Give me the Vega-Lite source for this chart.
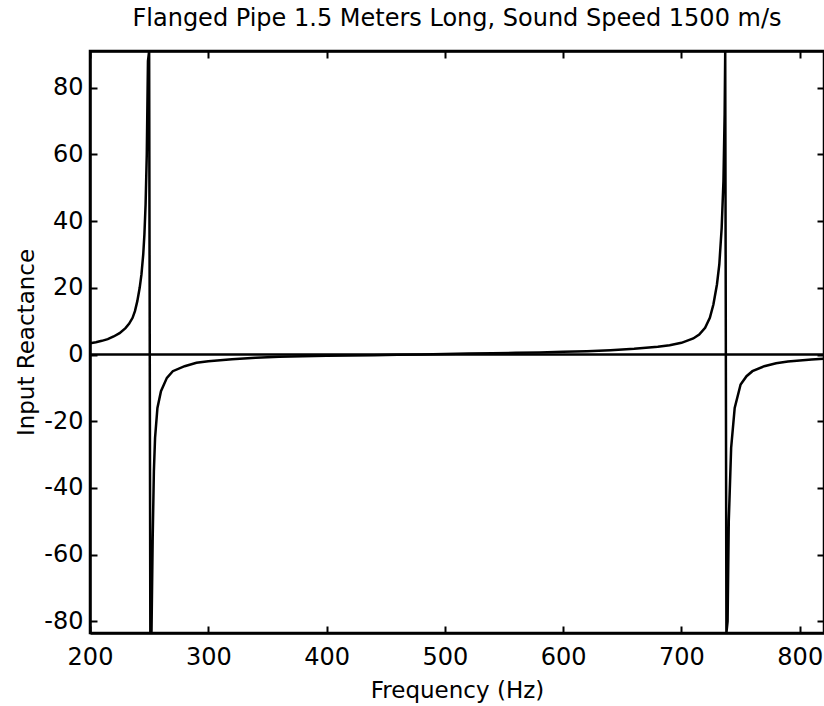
{
  "$schema": "https://vega.github.io/schema/vega-lite/v6.json",
  "width": 734,
  "height": 582,
  "autosize": "none",
  "padding": {"left": 90, "top": 51, "right": 0, "bottom": 73},
  "background": "white",
  "title": {"text": "Flanged Pipe 1.5 Meters Long, Sound Speed 1500 m/s", "font": "DejaVu Sans", "fontSize": 24, "fontWeight": "normal", "color": "black", "offset": 19, "anchor": "middle"},
  "config": {
    "view": {"stroke": "black", "strokeWidth": 2.5},
    "axis": {"domainColor": "black", "domainWidth": 2.5, "tickColor": "black", "tickWidth": 2, "tickSize": -7, "grid": false, "labelFlush": false, "labelFont": "DejaVu Sans", "labelFontSize": 24, "labelColor": "black", "titleFont": "DejaVu Sans", "titleFontSize": 23, "titleFontWeight": "normal", "titleColor": "black"}
  },
  "datasets": {
    "curve": [
      {"f": 200, "x": 3.4}, {"f": 205, "x": 3.7}, {"f": 210, "x": 4.1}, {"f": 215, "x": 4.6}, {"f": 220, "x": 5.4}, {"f": 225, "x": 6.4}, {"f": 230, "x": 7.9}, {"f": 233, "x": 9.2}, {"f": 236, "x": 11}, {"f": 238, "x": 13}, {"f": 240, "x": 16}, {"f": 242, "x": 20}, {"f": 243.5, "x": 24}, {"f": 245, "x": 30}, {"f": 246, "x": 36}, {"f": 247, "x": 45}, {"f": 248, "x": 60}, {"f": 249, "x": 88}, {"f": 250, "x": 91},
      {"f": 251, "x": -83.5}, {"f": 252, "x": -83}, {"f": 253, "x": -55}, {"f": 254, "x": -35}, {"f": 255, "x": -25}, {"f": 257, "x": -16}, {"f": 260, "x": -11}, {"f": 265, "x": -7}, {"f": 270, "x": -5}, {"f": 280, "x": -3.5}, {"f": 290, "x": -2.5}, {"f": 300, "x": -2}, {"f": 320, "x": -1.4}, {"f": 340, "x": -1}, {"f": 360, "x": -0.7}, {"f": 380, "x": -0.5}, {"f": 400, "x": -0.4}, {"f": 420, "x": -0.3}, {"f": 440, "x": -0.2}, {"f": 460, "x": -0.1}, {"f": 480, "x": 0}, {"f": 500, "x": 0.15}, {"f": 520, "x": 0.3}, {"f": 540, "x": 0.4}, {"f": 560, "x": 0.5}, {"f": 580, "x": 0.6}, {"f": 600, "x": 0.8}, {"f": 620, "x": 1.0}, {"f": 640, "x": 1.3}, {"f": 660, "x": 1.7}, {"f": 680, "x": 2.3}, {"f": 690, "x": 2.8}, {"f": 700, "x": 3.5}, {"f": 710, "x": 4.8}, {"f": 715, "x": 6}, {"f": 720, "x": 8}, {"f": 724, "x": 11}, {"f": 727, "x": 15}, {"f": 730, "x": 21}, {"f": 732, "x": 27}, {"f": 734, "x": 38}, {"f": 735.5, "x": 52}, {"f": 736.5, "x": 72}, {"f": 737, "x": 91},
      {"f": 738, "x": -83.5}, {"f": 739, "x": -80}, {"f": 740, "x": -50}, {"f": 742, "x": -28}, {"f": 745, "x": -16}, {"f": 750, "x": -9}, {"f": 755, "x": -6.5}, {"f": 760, "x": -5}, {"f": 770, "x": -3.5}, {"f": 780, "x": -2.6}, {"f": 790, "x": -2.1}, {"f": 800, "x": -1.8}, {"f": 810, "x": -1.5}, {"f": 820, "x": -1.3}
    ],
    "zero": [{"y": 0}],
    "anchor": [{"f": 500, "x": 0}]
  },
  "resolve": {"axis": {"x": "independent", "y": "independent"}},
  "layer": [
    {
      "data": {"name": "zero"},
      "mark": {"type": "rule", "color": "black", "strokeWidth": 2.5},
      "encoding": {
        "y": {"field": "y", "type": "quantitative", "scale": {"domain": [-83.5, 91], "nice": false, "zero": false}, "axis": null}
      }
    },
    {
      "data": {"name": "curve"},
      "mark": {"type": "line", "color": "black", "strokeWidth": 2.5, "clip": true, "interpolate": "linear"},
      "encoding": {
        "x": {"field": "f", "type": "quantitative", "scale": {"domain": [200, 820.5], "nice": false, "zero": false}, "axis": {"orient": "bottom", "title": "Frequency (Hz)", "values": [200, 300, 400, 500, 600, 700, 800], "labelPadding": 19, "titlePadding": 10}},
        "y": {"field": "x", "type": "quantitative", "scale": {"domain": [-83.5, 91], "nice": false, "zero": false}, "axis": {"orient": "left", "title": "Input Reactance", "values": [-80, -60, -40, -20, 0, 20, 40, 60, 80], "labelExpr": "datum.value < 0 ? '-' + abs(datum.value) : '' + datum.value", "labelPadding": 14, "titlePadding": 5}}
      }
    },
    {
      "data": {"name": "anchor"},
      "mark": {"type": "point", "opacity": 0},
      "encoding": {
        "x": {"field": "f", "type": "quantitative", "scale": {"domain": [200, 820.5], "nice": false, "zero": false}, "axis": {"orient": "top", "title": null, "labels": false, "values": [200, 300, 400, 500, 600, 700, 800]}},
        "y": {"field": "x", "type": "quantitative", "scale": {"domain": [-83.5, 91], "nice": false, "zero": false}, "axis": {"orient": "right", "title": null, "labels": false, "values": [-80, -60, -40, -20, 0, 20, 40, 60, 80]}}
      }
    }
  ]
}
